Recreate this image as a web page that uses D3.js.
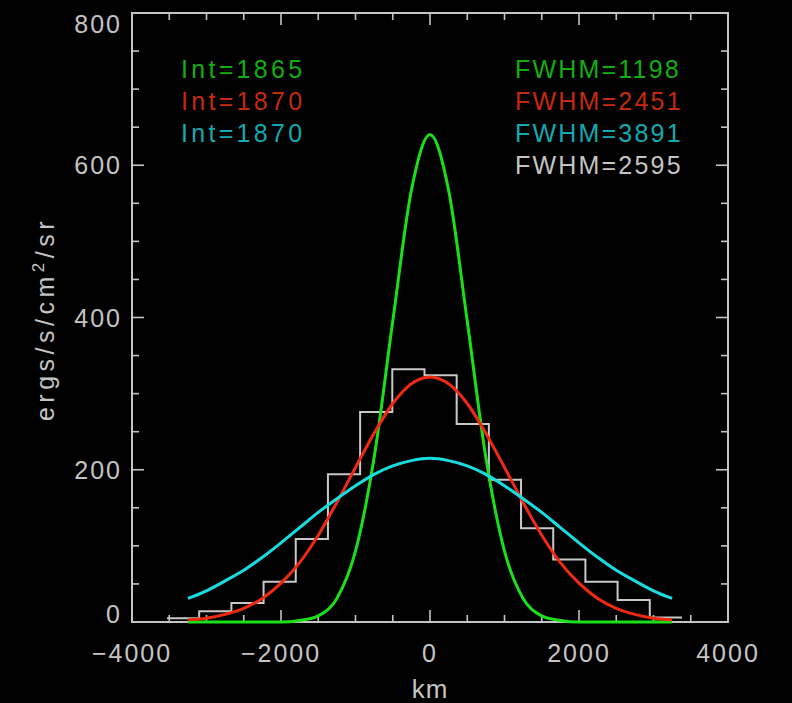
<!DOCTYPE html>
<html>
<head>
<meta charset="utf-8">
<script src="https://cdn.jsdelivr.net/npm/d3@7"></script>
<style>
  html, body { margin:0; padding:0; background:#000; }
  text { font-family: "Liberation Sans", Arial, sans-serif; }
</style>
</head>
<body>
<div id="chart-area"></div>
<script>
// x positions (km) where the fitted curves were read
var kmSamples = [-3250, -3000, -2750, -2500, -2250, -2000, -1750, -1500, -1250, -1000, -750, -500, -250,
    0, 250, 500, 750, 1000, 1250, 1500, 1750, 2000, 2250, 2500, 2750, 3000, 3250];

// curve values (ergs/s/cm2/sr)
var greenVals = [0, 0, 0, 0, 0, 0, 2, 8, 31, 93, 216, 395, 567,
    640, 567, 395, 216, 93, 31, 8, 2, 0, 0, 0, 0, 0, 0];
var redVals = [3, 5, 10, 18, 31, 51, 78, 114, 157, 203, 248, 287, 313,
    322, 313, 287, 248, 203, 157, 114, 78, 51, 31, 18, 10, 5, 3];
var cyanVals = [31, 41, 54, 68, 85, 104, 124, 144, 162, 179, 194, 205, 212,
    215, 212, 205, 194, 179, 162, 144, 124, 104, 85, 68, 54, 41, 31];

// histogram
var binEdges = [-3530, -3098, -2666, -2234, -1802, -1370, -938, -506, -74, 358, 790, 1222, 1654, 2086, 2518, 2950, 3382];
var binVals = [5, 14, 25, 53, 109, 194, 276, 332, 324, 260, 187, 123, 82, 53, 29, 6];

// annotations
var intLabels = ["Int=1865", "Int=1870", "Int=1870"];
var fwhmLabels = ["FWHM=1198", "FWHM=2451", "FWHM=3891", "FWHM=2595"];

// axis ticks
var xMajor = [-4000, -2000, 0, 2000, 4000];
var yMajor = [0, 200, 400, 600, 800];

//Margins
var margin = { left:132, right:64, top:13, bottom:81 },
    width = 792 - margin.left - margin.right,
    height = 703 - margin.top - margin.bottom;

var axisColor = "#c4c4c4";
var lineColors = ["#19e019", "#f02a10", "#18dde0"];
var textColors = ["#12ae12", "#c42a0c", "#12aab0", "#c4c4c4"];

//SVG Canvas
var svg = d3.select("#chart-area").append("svg")
    .attr("width", 792)
    .attr("height", 703)
    .style("background", "#000");
var g = svg.append("g")
    .attr("transform", "translate(" + margin.left + ", " + margin.top + ")");

//scales
var x = d3.scaleLinear().domain([-4000, 4000]).range([0, width]);
var y = d3.scaleLinear().domain([0, 800]).range([height, 0]);

// ticks inside the frame on all four sides
var xMinor = d3.range(-4000, 4001, 500);
var yMinor = d3.range(0, 801, 50);
var ticks = g.append("g").attr("stroke", axisColor).attr("stroke-width", 1.6);
xMinor.forEach(function(v){
    var len = xMajor.indexOf(v) >= 0 ? 12 : 7;
    ticks.append("line").attr("x1", x(v)).attr("x2", x(v)).attr("y1", height).attr("y2", height - len);
    ticks.append("line").attr("x1", x(v)).attr("x2", x(v)).attr("y1", 0).attr("y2", len);
});
yMinor.forEach(function(v){
    var len = yMajor.indexOf(v) >= 0 ? 12 : 7;
    ticks.append("line").attr("x1", 0).attr("x2", len).attr("y1", y(v)).attr("y2", y(v));
    ticks.append("line").attr("x1", width).attr("x2", width - len).attr("y1", y(v)).attr("y2", y(v));
});

//frame
g.append("rect")
    .attr("width", width)
    .attr("height", height)
    .attr("fill", "none")
    .attr("stroke", axisColor)
    .attr("stroke-width", 2);

//tick labels
g.selectAll(".xlab").data(xMajor).enter().append("text")
    .attr("class", "xlab")
    .attr("x", function(d){ return x(d); })
    .attr("y", height + 40)
    .attr("text-anchor", "middle")
    .attr("font-size", "25px")
    .attr("letter-spacing", "2px")
    .attr("fill", axisColor)
    .text(function(d){ return d < 0 ? "\u2212" + Math.abs(d) : d; });

g.selectAll(".ylab").data(yMajor).enter().append("text")
    .attr("class", "ylab")
    .attr("x", -10)
    .attr("y", function(d){ return Math.max(11, Math.min(height - 8, y(d))); })
    .attr("dy", "0.36em")
    .attr("text-anchor", "end")
    .attr("font-size", "25px")
    .attr("letter-spacing", "2px")
    .attr("fill", axisColor)
    .text(function(d){ return d; });

//Axis labels
g.append("text")
    .attr("x", width / 2)
    .attr("y", height + 76)
    .attr("text-anchor", "middle")
    .attr("font-size", "26px")
    .attr("letter-spacing", "1px")
    .attr("fill", axisColor)
    .text("km");

var yLabel = g.append("text")
    .attr("transform", "rotate(-90)")
    .attr("x", -(319 - margin.top))
    .attr("y", 54 - margin.left)
    .attr("text-anchor", "middle")
    .attr("font-size", "25px")
    .attr("letter-spacing", "4.5px")
    .attr("fill", axisColor);
yLabel.append("tspan").text("ergs/s/cm");
yLabel.append("tspan").attr("font-size", "17px").attr("dy", "-0.6em").text("2");
yLabel.append("tspan").attr("dy", "0.4em").text("/sr");

//histogram
var histPts = binVals.map(function(v, i){ return [binEdges[i], v]; });
histPts.push([binEdges[binEdges.length - 1], binVals[binVals.length - 1]]);
var stepLine = d3.line()
    .x(function(d){ return x(d[0]); })
    .y(function(d){ return y(d[1]); })
    .curve(d3.curveStepAfter);
g.append("path")
    .attr("d", stepLine(histPts))
    .attr("fill", "none")
    .attr("stroke", "#c8c8c8")
    .attr("stroke-width", 2);

//fitted curves
var curve = d3.line()
    .x(function(d, i){ return x(kmSamples[i]); })
    .y(function(d){ return y(d); })
    .curve(d3.curveMonotoneX);
[greenVals, redVals, cyanVals].forEach(function(vals, i){
    g.append("path")
        .attr("d", curve(vals))
        .attr("fill", "none")
        .attr("stroke", lineColors[i])
        .attr("stroke-width", 3);
});

//annotations
intLabels.forEach(function(t, i){
    svg.append("text")
        .attr("x", 181)
        .attr("y", 78 + i * 32)
        .attr("font-size", "25px")
        .attr("letter-spacing", "3.3px")
        .attr("fill", textColors[i])
        .text(t);
});
fwhmLabels.forEach(function(t, i){
    svg.append("text")
        .attr("x", 515)
        .attr("y", 78 + i * 32)
        .attr("font-size", "25px")
        .attr("letter-spacing", "2.2px")
        .attr("fill", textColors[i])
        .text(t);
});
</script>
</body>
</html>
